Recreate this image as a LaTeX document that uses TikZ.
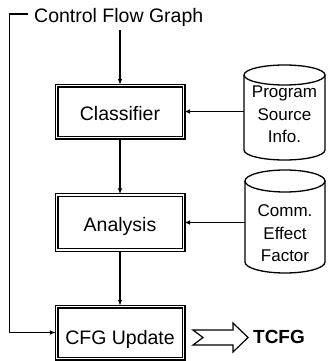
\documentclass[tikz,border=0pt]{standalone}
\usepackage{fontspec}
\setmainfont{Liberation Sans}
\usetikzlibrary{arrows.meta}
\begin{document}
\begin{tikzpicture}[x=1pt,y=1pt,
  lw/.style={line width=1.3pt},
  arr/.style={lw,-{Latex[length=6pt,width=4.5pt]}},
  box/.style={draw,line width=1.1pt,double,double distance=1.8pt,minimum width=127pt,inner sep=0pt,
    font=\fontsize{19.5}{23}\selectfont, text height=21pt, text depth=3pt},
  cyl/.style={draw,line width=1.3pt},
  cyltext/.style={align=center,font=\fontsize{17}{22.5}\selectfont,minimum width=81pt,inner sep=0pt}]
\useasboundingbox (0,0) rectangle (327,-361);

% text at top
\node[font=\fontsize{19.5}{23}\selectfont, anchor=west, inner sep=0pt] (cfg) at (34,-17.9) {Control Flow Graph};

% boxes
\node[box, minimum height=52pt] (cls) at (120,-111.5) {Classifier};
\node[box, minimum height=55pt] (ana) at (120,-222.5) {Analysis};
\node[box, minimum height=52pt, text height=26pt] (upd) at (120,-332.5) {CFG Update};

% cylinders
\draw[cyl] (244,-75) -- (244,-150) arc[start angle=180,end angle=360,x radius=40.5,y radius=10] -- (325,-75);
\draw[cyl] (284.5,-75) ellipse [x radius=40.5,y radius=10];
\node[cyltext] (p1) at (284.5,-114.5) {Program\\Source\\Info.};

\draw[cyl] (245,-181) -- (245,-262) arc[start angle=180,end angle=360,x radius=40,y radius=11] -- (325,-181);
\draw[cyl] (285,-181) ellipse [x radius=40,y radius=11];
\node[cyltext, minimum width=80pt] (p2) at (285,-233.5) {Comm.\\Effect\\Factor};

% connectors
\draw[arr] (cls.north |- cfg.south) ++(0,-3) -- (cls.north);
\draw[arr] (cls.south) -- (ana.north);
\draw[arr] (ana.south) -- (upd.north);
\draw[arr] (cls.east -| p1.west) -- (cls.east);
\draw[arr] (ana.east -| p2.west) -- (ana.east);

\coordinate (lc) at (9.5,-200);
\draw[arr] ([xshift=-6pt,yshift=4pt]cfg.west) -| (lc) |- (upd.west);

% output arrow
\draw[line width=1.2pt, line join=miter] (193,-330) -- (233,-330) -- (233,-323) -- (248,-337.5) -- (233,-352) -- (233,-345) -- (193,-345) -- (203,-337.5) -- cycle;
\node[font=\bfseries\fontsize{19}{22}\selectfont, inner sep=0pt] (tcfg) at (279,-337) {TCFG};
\end{tikzpicture}
\end{document}
